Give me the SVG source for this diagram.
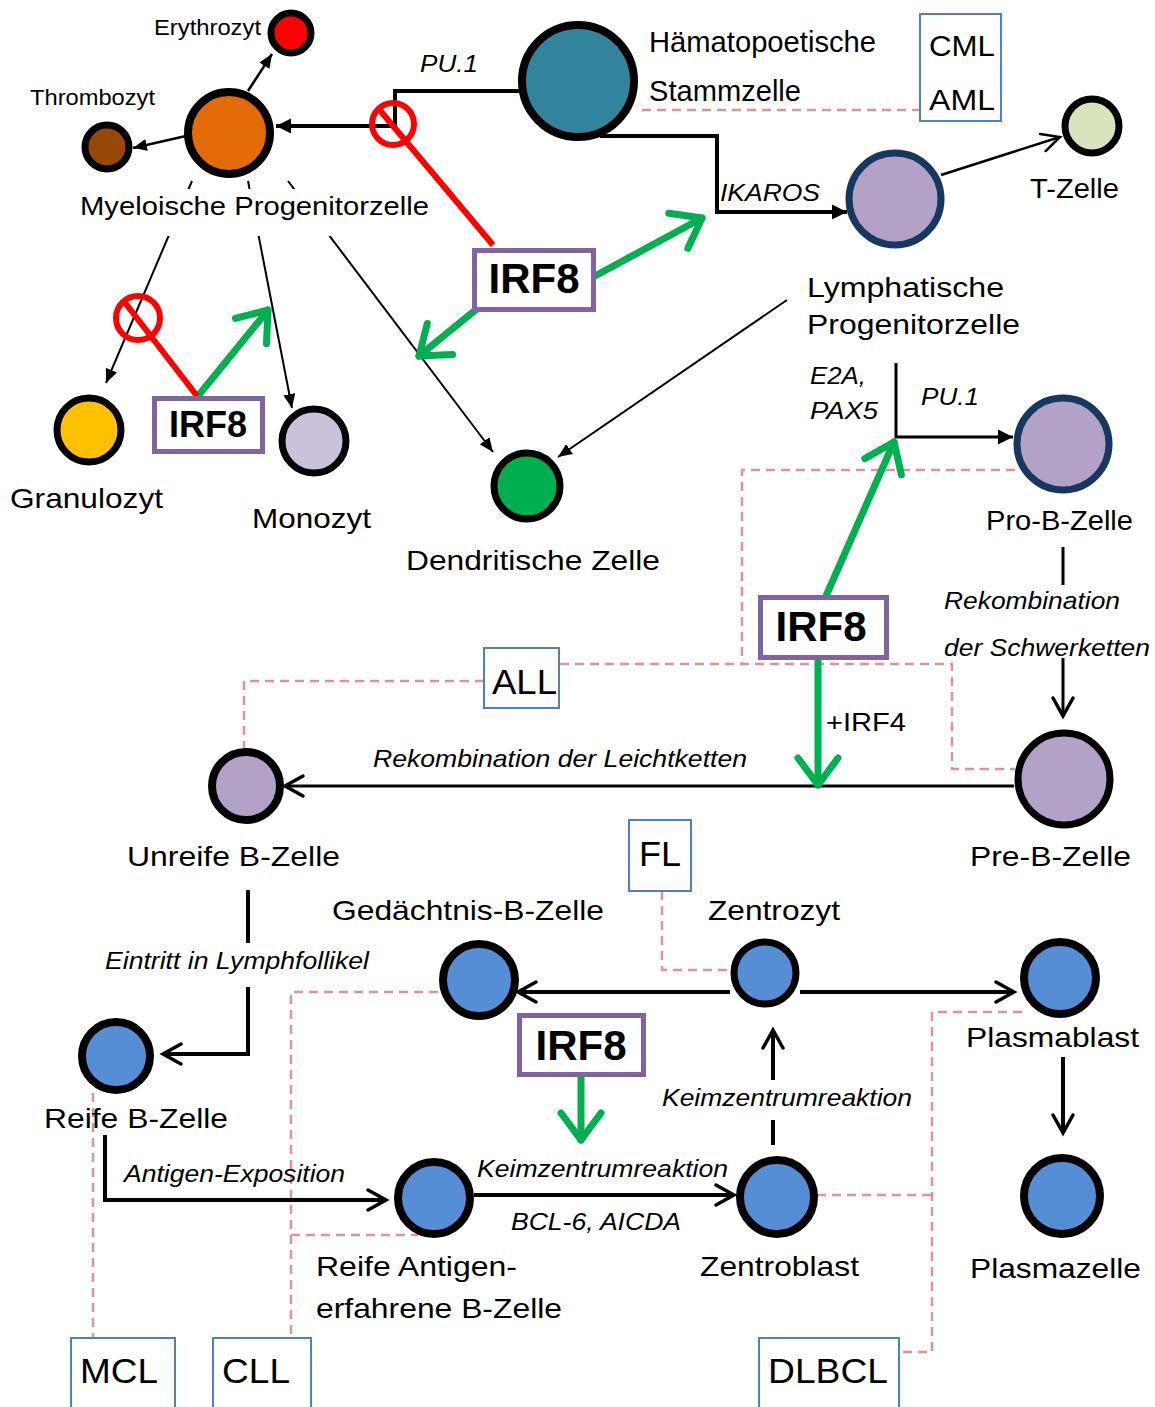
<svg xmlns="http://www.w3.org/2000/svg" width="1155" height="1407" viewBox="0 0 1155 1407">
<style>
text{font-family:"Liberation Sans",Arial,sans-serif;fill:#000}
.lbl{font-size:28px}
.it{font-size:24px;font-style:italic}
.sm{font-size:22px}
.dis{font-size:35px}
.irf{font-weight:bold;text-anchor:middle}
.cell{stroke:#000;stroke-width:7}
.thick{stroke-width:8}
.navy{stroke:#17375E}
.ln{fill:none;stroke:#000}
.grn{fill:none;stroke:#00B050;stroke-width:7;stroke-linecap:round}
.red{fill:none;stroke:#FF0000;stroke-width:6}
.dash{fill:none;stroke:#D99694;stroke-width:2.5;stroke-dasharray:9,6}
.box{fill:#fff;stroke:#4F81BD;stroke-width:2}
.ibox{fill:#fff;stroke:#8064A2;stroke-width:5}
</style>
<defs>
<marker id="triL" markerUnits="userSpaceOnUse" viewBox="0 0 16 16" markerWidth="16" markerHeight="16" refX="15" refY="8" orient="auto"><path d="M0,0.5 L15,8 L0,15.5 z" fill="#000"/></marker>
<marker id="triS" markerUnits="userSpaceOnUse" viewBox="0 0 14 12" markerWidth="14" markerHeight="12" refX="14" refY="6" orient="auto"><path d="M0,0 L14,6 L0,12 z" fill="#000"/></marker>
<marker id="chev" markerUnits="userSpaceOnUse" viewBox="-22 -14 26 28" markerWidth="26" markerHeight="28" refX="0" refY="0" orient="auto" overflow="visible"><path d="M-18,-10 L0,0 L-18,10" fill="none" stroke="#000" stroke-width="3.5" stroke-linecap="round"/></marker>
<marker id="chevT" markerUnits="userSpaceOnUse" viewBox="-22 -14 26 28" markerWidth="26" markerHeight="28" refX="0" refY="0" orient="auto" overflow="visible"><path d="M-18,-9 L0,0 L-18,9" fill="none" stroke="#000" stroke-width="2.5" stroke-linecap="round"/></marker>
<marker id="gchev" markerUnits="userSpaceOnUse" viewBox="-32 -26 36 52" markerWidth="36" markerHeight="52" refX="0" refY="0" orient="auto" overflow="visible"><path d="M-27,-20 L0,0 L-27,20" fill="none" stroke="#00B050" stroke-width="7" stroke-linecap="round" stroke-linejoin="round"/></marker>
</defs>
<rect width="1155" height="1407" fill="#fff"/>

<g id="connectors">
  <!-- disease dashed links -->
  <path class="dash" d="M642,110 H920"/>
  <path class="dash" d="M1015,470 H742 V664"/>
  <path class="dash" d="M560,664 H952 V769 H1015"/>
  <path class="dash" d="M484,681 H244 V748"/>
  <path class="dash" d="M662,891 V970 H730"/>
  <path class="dash" d="M438,992 H291 V1338"/>
  <path class="dash" d="M291,1235 H418"/>
  <path class="dash" d="M93,1093 V1338"/>
  <path class="dash" d="M817,1195 H932"/>
  <path class="dash" d="M1022,1012 H932 V1352 H899"/>

  <!-- black connectors -->
  <path class="ln" stroke-width="4" d="M519,91 H395 V126 H276" marker-end="url(#triL)"/>
  <path class="ln" stroke-width="4" d="M600,136 H717 V212 H847" marker-end="url(#triL)"/>
  <path class="ln" stroke-width="2.5" d="M248,91 L272,54" marker-end="url(#triS)"/>
  <path class="ln" stroke-width="2.5" d="M186,136 L133,148" marker-end="url(#triS)"/>
  <path class="ln" stroke-width="2" d="M192,181 L106,383" marker-end="url(#triS)"/>
  <path class="ln" stroke-width="2" d="M248,181 L292,408" marker-end="url(#triS)"/>
  <path class="ln" stroke-width="2" d="M288,181 L493,452" marker-end="url(#triS)"/>
  <path class="ln" stroke-width="2" d="M787,300 L558,457" marker-end="url(#triS)"/>
  <path class="ln" stroke-width="2.5" d="M941,175 L1060,137" marker-end="url(#chevT)"/>
  <path class="ln" stroke-width="3" d="M896,363 V437 H1013" marker-end="url(#triL)"/>
  <path class="ln" stroke-width="3" d="M1063,547 V585"/>
  <path class="ln" stroke-width="3" d="M1063,658 V716" marker-end="url(#chev)"/>
  <path class="ln" stroke-width="3" d="M1014,786 H285" marker-end="url(#chev)"/>
  <path class="ln" stroke-width="4" d="M248,890 V943"/>
  <path class="ln" stroke-width="4" d="M248,987 V1054 H163" marker-end="url(#chev)"/>
  <path class="ln" stroke-width="4" d="M105,1135 V1200 H386" marker-end="url(#chev)"/>
  <path class="ln" stroke-width="4" d="M730,992 H518" marker-end="url(#chev)"/>
  <path class="ln" stroke-width="4" d="M800,992 H1014" marker-end="url(#chev)"/>
  <path class="ln" stroke-width="4" d="M1063,1057 V1133" marker-end="url(#chev)"/>
  <path class="ln" stroke-width="4" d="M474,1195 H734" marker-end="url(#chev)"/>
  <path class="ln" stroke-width="4" d="M773,1145 V1120"/>
  <path class="ln" stroke-width="4" d="M773,1080 V1030" marker-end="url(#chev)"/>

  <!-- IRF8 activations -->
  <path class="grn" d="M595,276 L702,218" marker-end="url(#gchev)"/>
  <path class="grn" d="M478,308 L419,356" marker-end="url(#gchev)"/>
  <path class="grn" d="M198,396 L268,310" marker-end="url(#gchev)"/>
  <path class="grn" d="M826,596 L894,442" marker-end="url(#gchev)"/>
  <path class="grn" d="M818,659 V785" marker-end="url(#gchev)"/>
  <path class="grn" d="M581,1075 V1140" marker-end="url(#gchev)"/>

  <!-- IRF8 inhibitions -->
  <circle class="red" cx="393" cy="124" r="21" stroke-width="5"/>
  <path class="red" d="M378,108 L493,245"/>
  <circle class="red" cx="138" cy="318" r="22" stroke-width="5"/>
  <path class="red" d="M123,300 L197,396"/>
</g>

<g id="erythrozyt">
  <circle class="cell" cx="291" cy="33" r="20" fill="#FF0000"/>
  <text class="sm" x="154" y="35" textLength="107" lengthAdjust="spacingAndGlyphs">Erythrozyt</text>
</g>
<g id="thrombozyt">
  <circle class="cell" cx="107" cy="147" r="22" fill="#974806"/>
  <text class="sm" x="30" y="105" textLength="125" lengthAdjust="spacingAndGlyphs">Thrombozyt</text>
</g>
<g id="myeloid">
  <circle class="cell thick" cx="229" cy="133" r="41" fill="#E36C09"/>
  <rect x="76" y="189" width="358" height="47" fill="#fff"/>
  <text x="80" y="215" font-size="26" textLength="349" lengthAdjust="spacingAndGlyphs">Myeloische Progenitorzelle</text>
</g>
<g id="pu1-label">
  <text class="it" x="420" y="72" textLength="58" lengthAdjust="spacingAndGlyphs">PU.1</text>
</g>
<g id="hsc">
  <circle class="cell thick" cx="578" cy="81" r="56" fill="#31849B"/>
  <text x="649" y="52" font-size="29" textLength="227" lengthAdjust="spacingAndGlyphs">Hämatopoetische</text>
  <text x="649" y="101" font-size="29" textLength="152" lengthAdjust="spacingAndGlyphs">Stammzelle</text>
</g>
<g id="cml-aml">
  <rect class="box" x="920" y="14" width="81" height="107"/>
  <text x="929" y="56" font-size="30" textLength="66" lengthAdjust="spacingAndGlyphs">CML</text>
  <text x="929" y="110" font-size="30" textLength="66" lengthAdjust="spacingAndGlyphs">AML</text>
</g>
<g id="ikaros-label">
  <text class="it" x="720" y="201" textLength="100" lengthAdjust="spacingAndGlyphs">IKAROS</text>
</g>
<g id="lymph">
  <circle class="cell navy" cx="895" cy="199" r="46" fill="#B3A2C7"/>
  <text class="lbl" x="807" y="297" textLength="197" lengthAdjust="spacingAndGlyphs">Lymphatische</text>
  <text class="lbl" x="807" y="334" textLength="213" lengthAdjust="spacingAndGlyphs">Progenitorzelle</text>
</g>
<g id="tcell">
  <circle class="cell" cx="1092" cy="126" r="27" fill="#D7E4BD"/>
  <text class="lbl" x="1030" y="198" textLength="89" lengthAdjust="spacingAndGlyphs">T-Zelle</text>
</g>
<g id="irf8-1">
  <rect class="ibox" x="474.5" y="250.5" width="119" height="59"/>
  <text class="irf" x="534" y="293" font-size="42">IRF8</text>
</g>
<g id="irf8-2">
  <rect class="ibox" x="154.5" y="398.5" width="108" height="53"/>
  <text class="irf" x="208" y="437" font-size="36">IRF8</text>
</g>
<g id="granulozyt">
  <circle class="cell" cx="89" cy="430" r="32" fill="#FFC000"/>
  <text class="lbl" x="10" y="508" textLength="153" lengthAdjust="spacingAndGlyphs">Granulozyt</text>
</g>
<g id="monozyt">
  <circle class="cell" cx="314" cy="441" r="32" fill="#CCC1DA"/>
  <text class="lbl" x="252" y="528" textLength="119" lengthAdjust="spacingAndGlyphs">Monozyt</text>
</g>
<g id="dendritic">
  <circle class="cell" cx="527" cy="486" r="33" fill="#00B050"/>
  <text class="lbl" x="406" y="570" textLength="254" lengthAdjust="spacingAndGlyphs">Dendritische Zelle</text>
</g>
<g id="e2a-label">
  <text class="it" x="810" y="384" textLength="56" lengthAdjust="spacingAndGlyphs">E2A,</text>
  <text class="it" x="810" y="419" textLength="68" lengthAdjust="spacingAndGlyphs">PAX5</text>
  <text class="it" x="921" y="405" textLength="58" lengthAdjust="spacingAndGlyphs">PU.1</text>
</g>
<g id="prob">
  <circle class="cell navy" cx="1063" cy="444" r="46" fill="#B3A2C7"/>
  <text class="lbl" x="986" y="530" textLength="147" lengthAdjust="spacingAndGlyphs">Pro-B-Zelle</text>
</g>
<g id="heavy-label">
  <text class="it" x="944" y="609" textLength="176" lengthAdjust="spacingAndGlyphs">Rekombination</text>
  <text class="it" x="944" y="656" textLength="206" lengthAdjust="spacingAndGlyphs">der Schwerketten</text>
</g>
<g id="irf8-3">
  <rect class="ibox" x="760.5" y="597.5" width="126" height="60"/>
  <text class="irf" x="821" y="641" font-size="42">IRF8</text>
  <text x="826" y="731" font-size="26" textLength="80" lengthAdjust="spacingAndGlyphs">+IRF4</text>
</g>
<g id="all">
  <rect class="box" x="484" y="648" width="75" height="60"/>
  <text class="dis" x="492" y="694" textLength="65" lengthAdjust="spacingAndGlyphs">ALL</text>
</g>
<g id="preb">
  <circle class="cell" cx="1064" cy="779" r="46" fill="#B3A2C7"/>
  <text class="lbl" x="970" y="866" textLength="161" lengthAdjust="spacingAndGlyphs">Pre-B-Zelle</text>
</g>
<g id="light-label">
  <text class="it" x="373" y="767" textLength="374" lengthAdjust="spacingAndGlyphs">Rekombination der Leichtketten</text>
</g>
<g id="unreife">
  <circle class="cell thick" cx="246" cy="786" r="34" fill="#B3A2C7"/>
  <text class="lbl" x="127" y="866" textLength="213" lengthAdjust="spacingAndGlyphs">Unreife B-Zelle</text>
</g>
<g id="fl">
  <rect class="box" x="629" y="820" width="62" height="71"/>
  <text class="dis" x="639" y="866" textLength="42" lengthAdjust="spacingAndGlyphs">FL</text>
</g>
<g id="follikel-label">
  <text class="it" x="105" y="969" textLength="264" lengthAdjust="spacingAndGlyphs">Eintritt in Lymphfollikel</text>
</g>
<g id="gedaechtnis">
  <circle class="cell thick" cx="479" cy="980" r="36" fill="#558ED5"/>
  <text class="lbl" x="332" y="920" textLength="272" lengthAdjust="spacingAndGlyphs">Gedächtnis-B-Zelle</text>
</g>
<g id="zentrozyt">
  <circle class="cell" cx="765" cy="973" r="31" fill="#558ED5"/>
  <text class="lbl" x="708" y="920" textLength="132" lengthAdjust="spacingAndGlyphs">Zentrozyt</text>
</g>
<g id="plasmablast">
  <circle class="cell thick" cx="1060" cy="978" r="36" fill="#558ED5"/>
  <text class="lbl" x="966" y="1047" textLength="173" lengthAdjust="spacingAndGlyphs">Plasmablast</text>
</g>
<g id="irf8-4">
  <rect class="ibox" x="519.5" y="1015.5" width="124" height="59"/>
  <text class="irf" x="581" y="1060" font-size="42">IRF8</text>
</g>
<g id="reife">
  <circle class="cell thick" cx="116" cy="1056" r="34" fill="#558ED5"/>
  <text class="lbl" x="44" y="1128" textLength="184" lengthAdjust="spacingAndGlyphs">Reife B-Zelle</text>
</g>
<g id="gc-labels">
  <text class="it" x="662" y="1106" textLength="250" lengthAdjust="spacingAndGlyphs">Keimzentrumreaktion</text>
  <text class="it" x="124" y="1182" textLength="221" lengthAdjust="spacingAndGlyphs">Antigen-Exposition</text>
  <text class="it" x="477" y="1177" textLength="251" lengthAdjust="spacingAndGlyphs">Keimzentrumreaktion</text>
  <text class="it" x="511" y="1230" textLength="170" lengthAdjust="spacingAndGlyphs">BCL-6, AICDA</text>
</g>
<g id="reife-antigen">
  <circle class="cell thick" cx="434" cy="1198" r="36" fill="#558ED5"/>
  <text class="lbl" x="316" y="1276" textLength="201" lengthAdjust="spacingAndGlyphs">Reife Antigen-</text>
  <text class="lbl" x="316" y="1318" textLength="246" lengthAdjust="spacingAndGlyphs">erfahrene B-Zelle</text>
</g>
<g id="zentroblast">
  <circle class="cell thick" cx="777" cy="1197" r="37" fill="#558ED5"/>
  <text class="lbl" x="700" y="1276" textLength="159" lengthAdjust="spacingAndGlyphs">Zentroblast</text>
</g>
<g id="plasmazelle">
  <circle class="cell thick" cx="1062" cy="1196" r="38" fill="#558ED5"/>
  <text class="lbl" x="970" y="1278" textLength="171" lengthAdjust="spacingAndGlyphs">Plasmazelle</text>
</g>
<g id="mcl">
  <rect class="box" x="71" y="1338" width="104" height="80"/>
  <text class="dis" x="80" y="1383" textLength="78" lengthAdjust="spacingAndGlyphs">MCL</text>
</g>
<g id="cll">
  <rect class="box" x="213" y="1338" width="98" height="80"/>
  <text class="dis" x="222" y="1383" textLength="68" lengthAdjust="spacingAndGlyphs">CLL</text>
</g>
<g id="dlbcl">
  <rect class="box" x="759" y="1338" width="140" height="80"/>
  <text class="dis" x="768" y="1383" textLength="120" lengthAdjust="spacingAndGlyphs">DLBCL</text>
</g>
</svg>
